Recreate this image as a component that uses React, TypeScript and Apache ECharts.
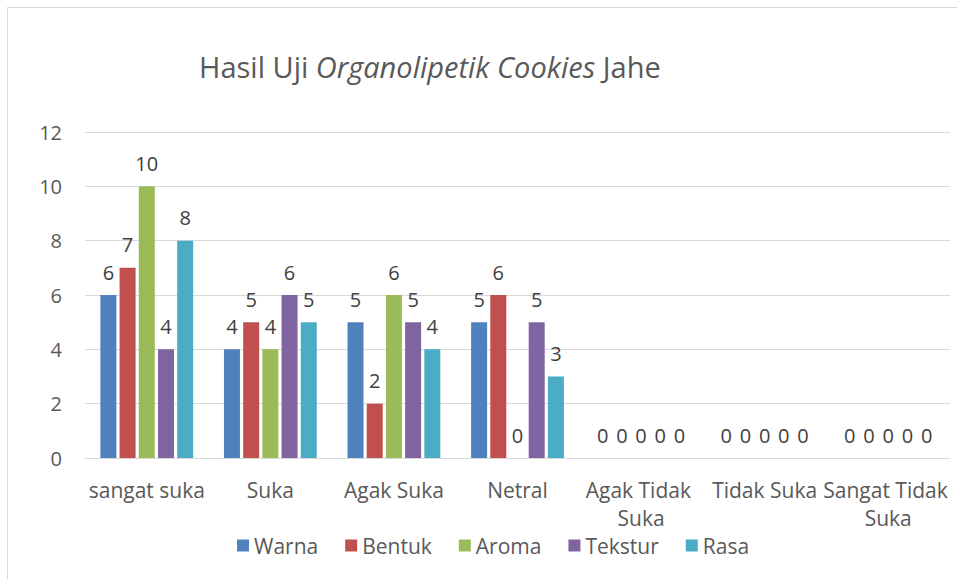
import React, { useEffect, useRef } from "react";
import * as echarts from "echarts";

const categories = ["sangat suka", "Suka", "Agak Suka", "Netral", "Agak Tidak Suka", "Tidak Suka", "Sangat Tidak Suka"];
const seriesNames = ["Warna", "Bentuk", "Aroma", "Tekstur", "Rasa"];
const warna = [6, 4, 5, 5, 0, 0, 0];
const bentuk = [7, 5, 2, 6, 0, 0, 0];
const aroma = [10, 4, 6, 0, 0, 0, 0];
const tekstur = [4, 6, 5, 5, 0, 0, 0];
const rasa = [8, 5, 4, 3, 0, 0, 0];
const colors = ["#4F81BD", "#C0504D", "#9BBB59", "#8064A2", "#4BACC6"];
const yTicks = { min: 0, max: 12, interval: 2 };

const FONT = "'Open Sans', 'Noto Sans', sans-serif";

export default function App() {
  const ref = useRef<HTMLDivElement>(null);
  useEffect(() => {
    document.body.style.margin = "0";
    const chart = echarts.init(ref.current!, null, { renderer: "svg" });
    const data = [warna, bentuk, aroma, tekstur, rasa];
    chart.setOption({
      animation: false,
      backgroundColor: "#ffffff",
      textStyle: { fontFamily: FONT },
      graphic: [
        {
          type: "rect",
          shape: { x: 7.5, y: 7.5, width: 1000, height: 1000 },
          style: { fill: "none", stroke: "#d9d9d9", lineWidth: 1 },
          silent: true,
        },
      ],
      title: {
        left: 194,
        top: 47,
        text: "{n|Hasil Uji }{i|Organolipetik Cookies}{n| Jahe}",
        textStyle: {
          fontWeight: "normal",
          rich: {
            n: { fontFamily: FONT, fontSize: 29, color: "#595959", fontWeight: "normal" },
            i: { fontFamily: FONT, fontSize: 29, color: "#595959", fontStyle: "italic", fontWeight: "normal" },
          },
        },
      },
      legend: {
        bottom: 18,
        left: 232,
        itemWidth: 12,
        itemHeight: 12,
        itemGap: 27,
        icon: "rect",
        textStyle: { fontSize: 21, color: "#595959", fontFamily: FONT },
        data: seriesNames,
      },
      grid: { left: 85, right: 7, top: 132, bottom: 121, outerBoundsMode: "none", containLabel: false },
      xAxis: {
        type: "category",
        data: categories,
        axisLine: { lineStyle: { color: "#d9d9d9" } },
        axisTick: { show: false },
        axisLabel: {
          color: "#595959",
          fontSize: 21,
          fontFamily: FONT,
          margin: 18,
          width: 150,
          overflow: "break",
          lineHeight: 28,
          interval: 0,
        },
      },
      yAxis: {
        type: "value",
        min: yTicks.min,
        max: yTicks.max,
        interval: yTicks.interval,
        axisLine: { show: false },
        axisTick: { show: false },
        splitLine: { lineStyle: { color: "#d9d9d9", width: 1 } },
        axisLabel: { color: "#595959", fontSize: 20, fontFamily: FONT, margin: 23 },
      },
      series: seriesNames.map((name, i) => ({
        name,
        type: "bar",
        data: data[i],
        barWidth: 16,
        barGap: "20%",
        itemStyle: { color: colors[i] },
        label: {
          show: true,
          position: "top",
          distance: 13,
          color: "#404040",
          fontSize: 20,
          fontFamily: FONT,
        },
      })),
    });
    return () => chart.dispose();
  }, []);
  return <div ref={ref} style={{ position: "fixed", left: 0, top: 0, width: 957, height: 579 }} />;
}
